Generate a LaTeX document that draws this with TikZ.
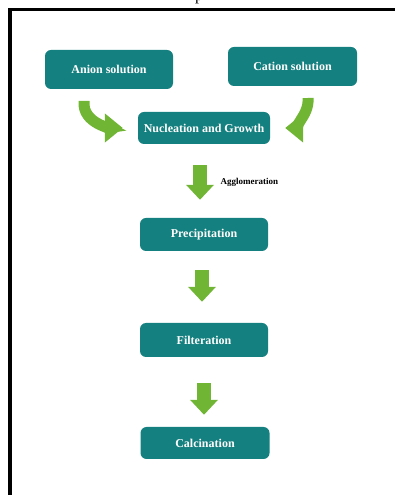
\documentclass[tikz,border=0pt]{standalone}
\usepackage{fontspec}
\setmainfont{Liberation Serif}
\usetikzlibrary{arrows.meta}

\definecolor{teal}{RGB}{20,128,127}
\definecolor{leaf}{RGB}{112,182,52}

\tikzset{
    stage/.style={fill=teal, rounded corners=6pt, text=white, inner sep=0pt,
        font=\fontsize{12}{14}\selectfont\bfseries, minimum width=129pt, minimum height=33pt},
    fatarrow/.style={leaf, line width=14pt, -{Triangle[width=27pt,length=15pt]}},
    bentarrow/.style={leaf, line width=11pt, -{Triangle[width=28pt,length=18pt]}}
}

\begin{document}
\begin{tikzpicture}[x=1pt, y=1pt]
    \useasboundingbox (0,0) rectangle (395,495);

    \node (cap) at (199,497) [font=\fontsize{16}{18}\selectfont] {p};
    \draw[line width=3.5pt] (10,-5) -- (10,485.5) -- (400,485.5);

    \node[stage, minimum height=39pt, minimum width=128pt] (anion) at (109,425.5) {Anion solution};
    \node[stage, minimum height=39pt] (cation) at (292.5,428.5) {Cation solution};
    \node[stage, minimum width=132pt, minimum height=32pt] (nucl) at (204,367) {Nucleation and Growth};
    \node[stage, minimum width=128pt] (prec) at (204,260.5) {Precipitation};
    \node[stage, minimum width=128pt, minimum height=34pt] (filt) at (204,155) {Filteration};
    \node[stage, minimum height=32pt] (calc) at (205,52) {Calcination};

    \coordinate (lbend) at (84,394);
    \coordinate (rbend) at (308,397);
    \draw[bentarrow, shorten >=15pt] (lbend) to[out=-95, in=180] (nucl.west);
    \draw[bentarrow, shorten >=15pt] (rbend) to[out=-85, in=0] (nucl.east);

    \draw[fatarrow, shorten <=21pt, shorten >=18pt] ([xshift=-4pt]nucl.south) -- ([xshift=-4pt]prec.north);
    \node[anchor=west, font=\fontsize{9}{10}\selectfont\bfseries] (aggl) at (217,313) {Agglomeration};
    \draw[fatarrow, shorten <=19pt, shorten >=21pt] ([xshift=-2pt]prec.south) -- ([xshift=-2pt]filt.north);
    \draw[fatarrow, shorten <=26pt, shorten >=12pt] (filt.south) -- ([xshift=-1pt]calc.north);
\end{tikzpicture}
\end{document}
